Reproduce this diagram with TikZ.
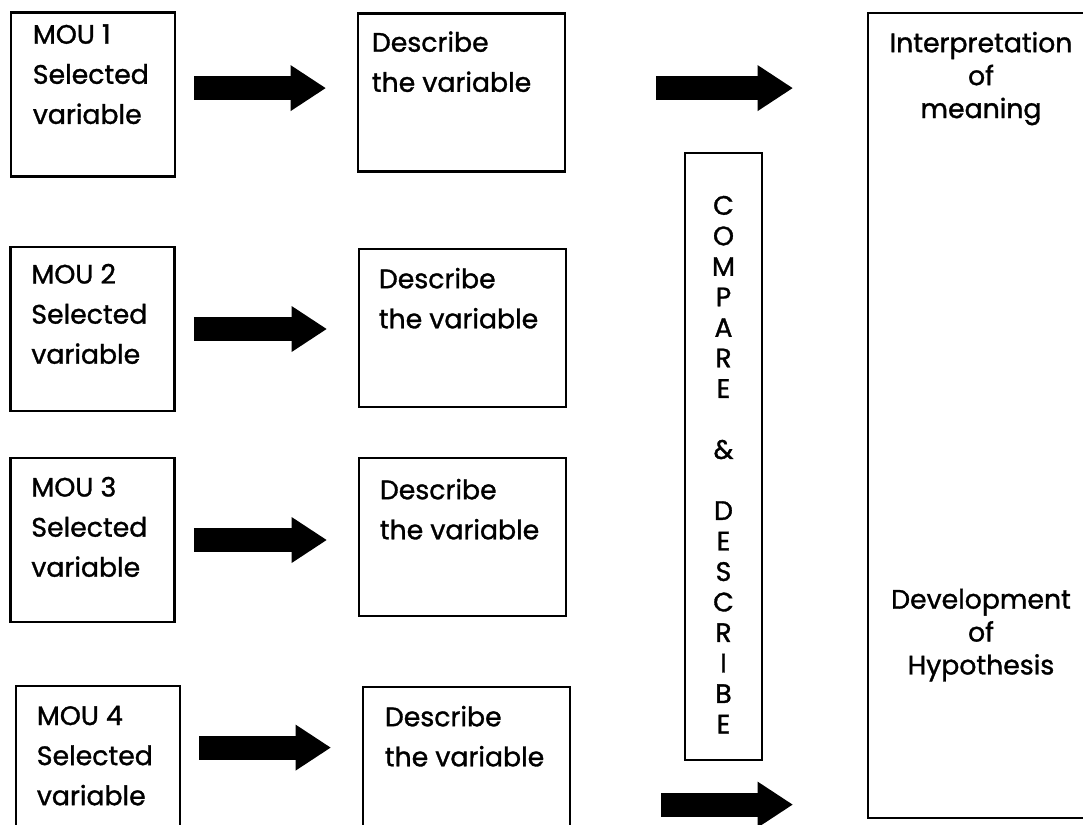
\documentclass[tikz,border=0pt]{standalone}
\usepackage{fontspec}
\setmainfont{Poppins}[UprightFeatures={FakeBold=1.2}]
\usetikzlibrary{arrows.meta,calc}
\newlength{\pxu}
\setlength{\pxu}{0.025cm}
\tikzset{box/.style={draw,line width=2pt,inner sep=0pt},
	mou/.style={box,minimum width=164\pxu,minimum height=164\pxu},
	desc/.style={box,minimum width=207\pxu,minimum height=158\pxu},
	txt/.style={anchor=north west,inner sep=0pt,align=left,
		font=\fontsize{19}{28.5}\selectfont},
	rtxt/.style={anchor=north,inner sep=0pt,align=center,
		font=\fontsize{19}{23.4}\selectfont},
	fat/.style={line width=0.6cm,
		-{Triangle[length=0.875cm 0 0,width=1.15cm 0 0,line width=0pt 0 0]},
		shorten <=18\pxu,shorten >=31\pxu}}

\begin{document}
\begin{tikzpicture}[x=0.025cm,y=-0.025cm]
\path[use as bounding box,clip] (0,0) rectangle (1083,824);
% left column
\node [mou] (m1) at (93,94.5) {};
\node [mou] (m2) at (92.5,329) {};
\node [mou] (m3) at (92.5,540) {};
\node [mou] (m4) at (98,768) {};
\node [txt] (m1t) at ($(m1.north west)+(23,13)$) {MOU 1\\Selected\\variable};
\node [txt] (m2t) at ($(m2.north west)+(22,18)$) {MOU 2\\Selected\\variable};
\node [txt] (m3t) at ($(m3.north west)+(22,20)$) {MOU 3\\Selected\\variable};
\node [txt] (m4t) at ($(m4.north west)+(22,21)$) {MOU 4\\Selected\\variable};
% describe column
\node [desc] (d1) at (461.5,92.5) {};
\node [desc] (d2) at (462.5,328) {};
\node [desc] (d3) at (462.5,537) {};
\node [desc] (d4) at (466.5,766) {};
\node [txt] (d1t) at ($(d1.north west)+(15,19)$) {Describe\\the variable};
\node [txt] (d2t) at ($(d2.north west)+(21,20)$) {Describe\\the variable};
\node [txt] (d3t) at ($(d3.north west)+(22,22)$) {Describe\\the variable};
\node [txt] (d4t) at ($(d4.north west)+(23,20)$) {Describe\\the variable};
% compare and result
\node [box,minimum width=77\pxu,minimum height=607\pxu] (cmp) at (723.5,456.5) {};
\node [rtxt,font=\fontsize{19}{21.7}\selectfont] (cmpt) at ($(cmp.north)+(0,44)$)
  {C\\O\\M\\P\\A\\R\\E\\~\\\&\\~\\D\\E\\S\\C\\R\\I\\B\\E};
\node [box,minimum width=226\pxu,minimum height=805\pxu] (res) at (981,415.5) {};
\node [rtxt] (rest) at ($(res.north)+(0,20)$) {Interpretation\\of\\meaning};
\node [rtxt] (resb) at ($(res.north)+(0,577)$) {Development\\of\\Hypothesis};
% arrows
\draw [fat] ($(m1.north east)+(0,77)$) -- ($(m1.north east -| d1.west)+(0,77)$);
\draw [fat] (m2.east) -- (m2.east -| d2.west);
\draw [fat] (m3.east) -- (m3.east -| d3.west);
\draw [fat] ($(m4.north east)+(0,63)$) -- ($(m4.north east -| d4.west)+(0,63)$);
\draw [fat,shorten <=90\pxu,shorten >=74\pxu] ($(d1.north east)+(0,76)$) -- ($(d1.north east -| res.west)+(0,76)$);
\draw [fat,shorten <=90\pxu,shorten >=74\pxu] ($(d4.north east)+(0,119)$) -- ($(d4.north east -| res.west)+(0,119)$);
\end{tikzpicture}
\end{document}
